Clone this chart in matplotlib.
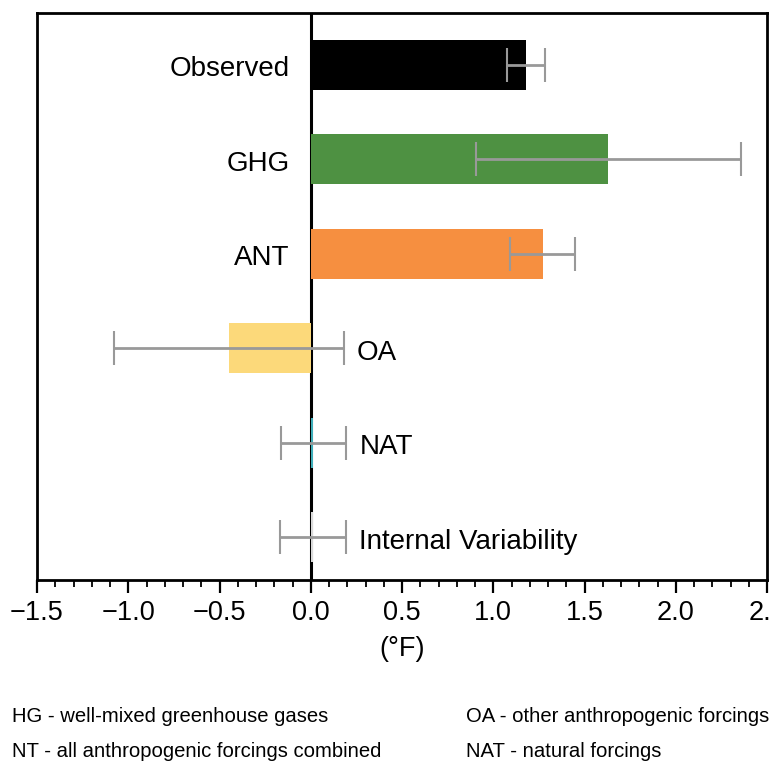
import matplotlib
matplotlib.use('Agg')
import matplotlib.pyplot as plt
import numpy as np
from matplotlib.ticker import MultipleLocator

plt.rcParams['font.family'] = ['Liberation Sans', 'DejaVu Sans']

# Data (°F)
labels = ['Observed', 'GHG', 'ANT', 'OA', 'NAT', 'Internal Variability']
values = [1.18, 1.63, 1.27, -0.45, 0.015, 0.012]
errors = [0.105, 0.725, 0.18, 0.63, 0.18, 0.18]
colors = ['#000000', '#4E9142', '#F68F40', '#FCD97A', '#3FAEB9', '#D9D9D9']
footnotes_left = ['HG - well-mixed greenhouse gases',
                  'NT - all anthropogenic forcings combined']
footnotes_right = ['OA - other anthropogenic forcings', 'NAT - natural forcings']

fig = plt.figure(figsize=(7.7, 7.65), dpi=100)
ax = fig.add_axes([37 / 770, 1 - 580 / 765, (767 - 37) / 770, (580 - 13) / 765])

y = np.arange(len(labels))
ax.axvline(0, color='black', lw=2.2, zorder=1)
ax.barh(y, values, height=0.53, color=colors, zorder=2)
ax.errorbar(values, y, xerr=errors, fmt='none', ecolor='#999999',
            elinewidth=2.0, capsize=12, capthick=1.5, zorder=3)

# category names: left of zero for positive bars, right of the error bar otherwise
for i, (lab, v, e) in enumerate(zip(labels, values, errors)):
    if v > 0.1:
        ax.annotate(lab, (0, i), xytext=(-15, -8.3), textcoords='offset points',
                    ha='right', va='baseline', fontsize=20)
    else:
        ax.annotate(lab, (v + e, i), xytext=(9.5, -8.3), textcoords='offset points',
                    ha='left', va='baseline', fontsize=20)

ax.set_xlim(-1.5, 2.5)
ax.set_ylim(5.455, -0.55)
ax.set_yticks([])
ax.xaxis.set_major_locator(MultipleLocator(0.5))
ax.xaxis.set_minor_locator(MultipleLocator(0.1))
ax.tick_params(axis='x', which='major', length=9.5, width=1.6, labelsize=19.5,
               pad=5)
ax.tick_params(axis='x', which='minor', length=5, width=1.3)
ax.set_xlabel('(°F)', fontsize=19.5, labelpad=7)
for s in ax.spines.values():
    s.set_linewidth(2)

for k, t in enumerate(footnotes_left):
    fig.text(12 / 770, 1 - (722 + 35 * k) / 765, t, fontsize=14.6, va='baseline')
for k, t in enumerate(footnotes_right):
    fig.text(466 / 770, 1 - (722 + 35 * k) / 765, t, fontsize=14.6, va='baseline')

fig.savefig('out.png', dpi=100, facecolor='white')
plt.close(fig)
